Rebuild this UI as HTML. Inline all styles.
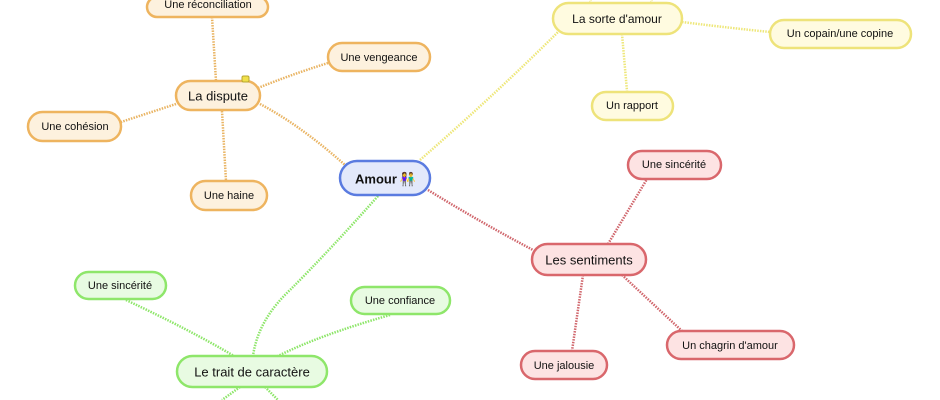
<!DOCTYPE html>
<html><head><meta charset="utf-8"><style>
html,body{margin:0;padding:0;background:#fff;}
svg{display:block;}
text{font-family:"Liberation Sans",sans-serif;fill:#111;text-anchor:middle;dominant-baseline:central;}
</style></head><body>
<svg width="940" height="400" viewBox="0 0 940 400" xmlns="http://www.w3.org/2000/svg">
<g fill="none" stroke-width="2.5" stroke-dasharray="1.5 1.2">
<g stroke="#e9b463">
<path d="M260,104 Q300,125 345,165"/>
<path d="M212,17 L216,81"/>
<path d="M258,88 Q290,75 328,63"/>
<path d="M176,104 L121,122"/>
<path d="M222,111 L226,181"/>
</g>
<g stroke="#eee77a">
<path d="M420,160 Q500,90 560,30"/>
<path d="M682,22 Q730,28 770,32"/>
<path d="M622,34 L627,91"/>
<path d="M590,3 L591,-2 M651,3 L652,-2"/>
</g>
<g stroke="#d0666c">
<path d="M428,190 Q480,222 533,250"/>
<path d="M608,244 L647,179"/>
<path d="M583,275 L572,351"/>
<path d="M622,275 L682,331"/>
</g>
<g stroke="#8ee66a">
<path d="M378,196 Q330,250 290,290 Q258,320 253,356"/>
<path d="M126,300 Q190,330 234,356"/>
<path d="M390,315 Q320,335 278,356"/>
<path d="M240,387 L222,400 M265,387 L278,400"/>
</g>
</g>
<g stroke-width="2.5">
<rect x="147" y="-3" width="121" height="20" rx="10" fill="#fdf1de" stroke="#eeb45f"/>
<rect x="328" y="43" width="102" height="28" rx="14" fill="#fdf1de" stroke="#eeb45f"/>
<rect x="176" y="81" width="84" height="29" rx="14.5" fill="#fdf1de" stroke="#eeb45f"/>
<rect x="28" y="112" width="93" height="29" rx="14.5" fill="#fdf1de" stroke="#eeb45f"/>
<rect x="191" y="181" width="76" height="29" rx="14.5" fill="#fdf1de" stroke="#eeb45f"/>
<rect x="242" y="76" width="7" height="6" rx="1.5" fill="#f0e04a" stroke="#b8a630" stroke-width="1"/>
<rect x="340" y="161" width="90" height="34" rx="17" fill="#e3e9fb" stroke="#5a7be0"/>
<rect x="553" y="3" width="129" height="31" rx="15.5" fill="#fffbe0" stroke="#eee37a"/>
<rect x="770" y="20" width="141" height="28" rx="14" fill="#fffbe0" stroke="#eee37a"/>
<rect x="592" y="92" width="81" height="28" rx="14" fill="#fffbe0" stroke="#eee37a"/>
<rect x="628" y="151" width="93" height="28" rx="14" fill="#fde3e3" stroke="#d9676c"/>
<rect x="532" y="244" width="114" height="31" rx="15.5" fill="#fde3e3" stroke="#d9676c"/>
<rect x="667" y="331" width="127" height="28" rx="14" fill="#fde3e3" stroke="#d9676c"/>
<rect x="521" y="351" width="86" height="28" rx="14" fill="#fde3e3" stroke="#d9676c"/>
<rect x="75" y="272" width="91" height="27" rx="13.5" fill="#e8fbe2" stroke="#8ee66a"/>
<rect x="351" y="287" width="99" height="27" rx="13.5" fill="#e8fbe2" stroke="#8ee66a"/>
<rect x="177" y="356" width="150" height="31" rx="15.5" fill="#e8fbe2" stroke="#8ee66a"/>
</g>
<text x="208" y="5" font-size="11">Une réconciliation</text>
<text x="379" y="58" font-size="11">Une vengeance</text>
<text x="218" y="96" font-size="13">La dispute</text>
<text x="75" y="127" font-size="11">Une cohésion</text>
<text x="229" y="196" font-size="11">Une haine</text>
<text x="376" y="179" font-size="13" font-weight="bold">Amour</text>
<text x="408" y="179" font-size="13">👫</text>
<text x="617" y="19" font-size="12">La sorte d'amour</text>
<text x="840" y="34" font-size="11">Un copain/une copine</text>
<text x="632" y="106" font-size="11">Un rapport</text>
<text x="674" y="165" font-size="11">Une sincérité</text>
<text x="589" y="260" font-size="13">Les sentiments</text>
<text x="730" y="346" font-size="11">Un chagrin d'amour</text>
<text x="564" y="366" font-size="11">Une jalousie</text>
<text x="120" y="286" font-size="11">Une sincérité</text>
<text x="400" y="301" font-size="11">Une confiance</text>
<text x="252" y="372" font-size="13">Le trait de caractère</text>
</svg>
</body></html>
